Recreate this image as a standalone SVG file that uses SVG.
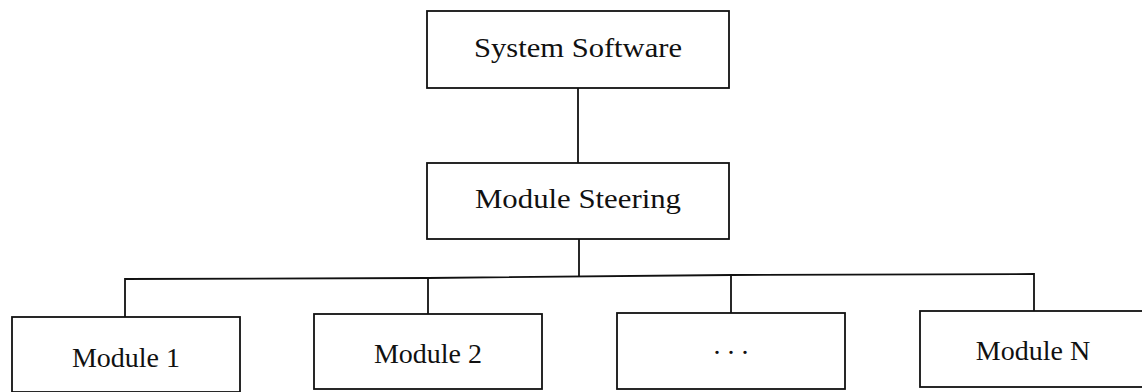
<svg xmlns="http://www.w3.org/2000/svg" width="1142" height="392" viewBox="0 0 1142 392">
<style>
.box{fill:#fff;stroke:#111;stroke-width:1.8}
.lbl{font-family:"Liberation Serif","Times New Roman",serif;font-size:28px;fill:#111;text-anchor:middle}
.con{fill:none;stroke:#111;stroke-width:1.8}
</style>
<rect width="1142" height="392" fill="#fff"/>
<g id="connectors">
<line class="con" x1="578" y1="88" x2="578" y2="163"/>
<line class="con" x1="579" y1="239" x2="579" y2="277"/>
<polyline class="con" points="125,317 125,279 428,278 731,275 1034,274 1034,311"/>
<line class="con" x1="428" y1="278" x2="428" y2="314"/>
<line class="con" x1="731" y1="275" x2="731" y2="313"/>
</g>
<g id="system-software">
<rect class="box" x="427" y="11" width="302" height="77"/>
<text class="lbl" x="578" y="57" textLength="208" lengthAdjust="spacingAndGlyphs">System Software</text>
</g>
<g id="module-steering">
<rect class="box" x="427" y="163" width="302" height="76"/>
<text class="lbl" x="578" y="208" textLength="206" lengthAdjust="spacingAndGlyphs">Module Steering</text>
</g>
<g id="module-1">
<rect class="box" x="12" y="317" width="228" height="75"/>
<text class="lbl" x="126" y="367">Module 1</text>
</g>
<g id="module-2">
<rect class="box" x="314" y="314" width="228" height="75"/>
<text class="lbl" x="428" y="363">Module 2</text>
</g>
<g id="module-dots">
<rect class="box" x="617" y="313" width="228" height="76"/>
<text class="lbl" x="731" y="354">. . .</text>
</g>
<g id="module-n">
<rect class="box" x="920" y="311" width="240" height="76"/>
<text class="lbl" x="1033" y="360">Module N</text>
</g>
</svg>
